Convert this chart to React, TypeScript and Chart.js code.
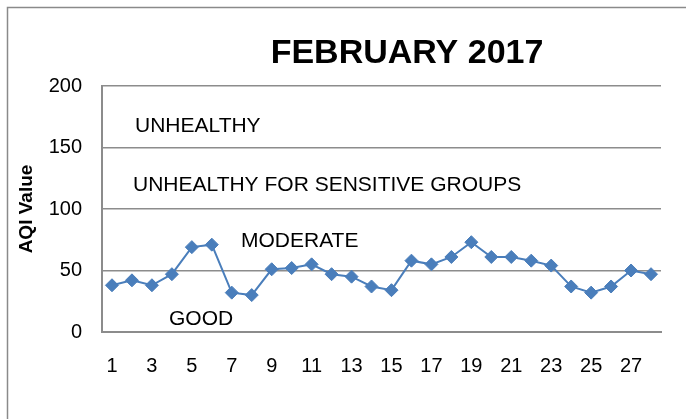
import React, { useEffect, useRef } from "react";
import { Chart, registerables } from "chart.js";

Chart.register(...registerables);

// ---- data ----
const days: string[] = [
  "1","2","3","4","5","6","7","8","9","10","11","12","13","14",
  "15","16","17","18","19","20","21","22","23","24","25","26","27","28",
];
const aqiValues: number[] = [
  38, 42, 38, 47, 69, 71, 32, 30, 51, 52, 55, 47, 45, 37,
  34, 58, 55, 61, 73, 61, 61, 58, 54, 37, 32, 37, 50, 47,
];
const yTicks: number[] = [0, 50, 100, 150, 200];
const zoneNames: string[] = ["UNHEALTHY", "UNHEALTHY FOR SENSITIVE GROUPS", "MODERATE", "GOOD"];
const zoneLabelValues: number[] = [167.5, 119, 74, 10.5];
const chartTitle = "FEBRUARY 2017";
const yAxisTitle = "AQI Value";

// ---- styles ----
const zoneLabelOffsetX = [33, 31, 139, 67]; // px from chart area left
const FONT = "'Liberation Sans', Arial, sans-serif";
const LINE_COLOR = "rgb(74,126,187)";
const GRID_COLOR = "#8c8c8c";

const decorPlugin = {
  id: "decor",
  beforeDraw(chart: any) {
    const ctx = chart.ctx;
    ctx.save();
    ctx.fillStyle = "#ffffff";
    ctx.fillRect(0, 0, chart.width, chart.height);
    ctx.strokeStyle = "#8a8a8a";
    ctx.lineWidth = 1.5;
    ctx.strokeRect(7.5, 7.5, chart.width + 20, chart.height + 20);
    ctx.restore();
  },
  afterDatasetsDraw(chart: any) {
    const ctx = chart.ctx;
    const area = chart.chartArea;
    const ys = chart.scales.y;
    ctx.save();
    ctx.fillStyle = "#000";
    ctx.font = `21px ${FONT}`;
    ctx.textAlign = "left";
    ctx.textBaseline = "middle";
    zoneNames.forEach((name, i) => {
      ctx.fillText(name, area.left + zoneLabelOffsetX[i], ys.getPixelForValue(zoneLabelValues[i]));
    });
    ctx.font = `bold 34px ${FONT}`;
    ctx.textAlign = "center";
    ctx.textBaseline = "alphabetic";
    ctx.fillText(chartTitle, 407, 62.5);
    ctx.restore();
  },
};

export default function App() {
  const ref = useRef<HTMLCanvasElement | null>(null);
  useEffect(() => {
    if (!ref.current) return;
    const chart = new Chart(ref.current, {
      type: "line",
      data: {
        labels: days,
        datasets: [
          {
            data: aqiValues,
            borderColor: LINE_COLOR,
            backgroundColor: LINE_COLOR,
            borderWidth: 2,
            pointStyle: "rectRot",
            pointRadius: 6.5,
            pointBorderWidth: 1,
            pointBackgroundColor: LINE_COLOR,
            pointBorderColor: LINE_COLOR,
            tension: 0,
          },
        ],
      },
      options: {
        animation: false,
        responsive: false,
        layout: { padding: { left: 11, right: 25, top: 86, bottom: 0 } },
        plugins: {
          legend: { display: false },
          title: { display: false },
          tooltip: { enabled: false },
        },
        scales: {
          x: {
            type: "category",
            offset: true,
            grid: { display: false, drawTicks: false },
            border: { display: true, color: GRID_COLOR, width: 2 },
            ticks: {
              autoSkip: false,
              maxRotation: 0,
              padding: 22,
              color: "#000",
              font: { family: FONT, size: 20 },
              callback: (_v: any, i: number) => (i % 2 === 0 ? days[i] : ""),
            },
            afterFit: (s: any) => {
              s.height = 87;
            },
          },
          y: {
            min: 0,
            max: 200,
            afterBuildTicks: (s: any) => {
              s.ticks = yTicks.map((v) => ({ value: v }));
            },
            grid: { color: GRID_COLOR, lineWidth: 1.5, drawTicks: false },
            border: { display: true, color: GRID_COLOR, width: 2 },
            ticks: {
              padding: 20,
              color: "#000",
              font: { family: FONT, size: 20 },
            },
            title: {
              display: true,
              text: yAxisTitle,
              color: "#000",
              font: { family: FONT, size: 19, weight: "bold" },
              padding: { top: 4, bottom: 0 },
            },
            afterFit: (s: any) => {
              s.width = 91;
            },
          },
        },
      },
      plugins: [decorPlugin],
    });
    return () => chart.destroy();
  }, []);
  return (
    <div style={{ position: "absolute", left: 0, top: 0, width: 686, height: 419 }}>
      <canvas ref={ref} width={686} height={419} />
    </div>
  );
}
